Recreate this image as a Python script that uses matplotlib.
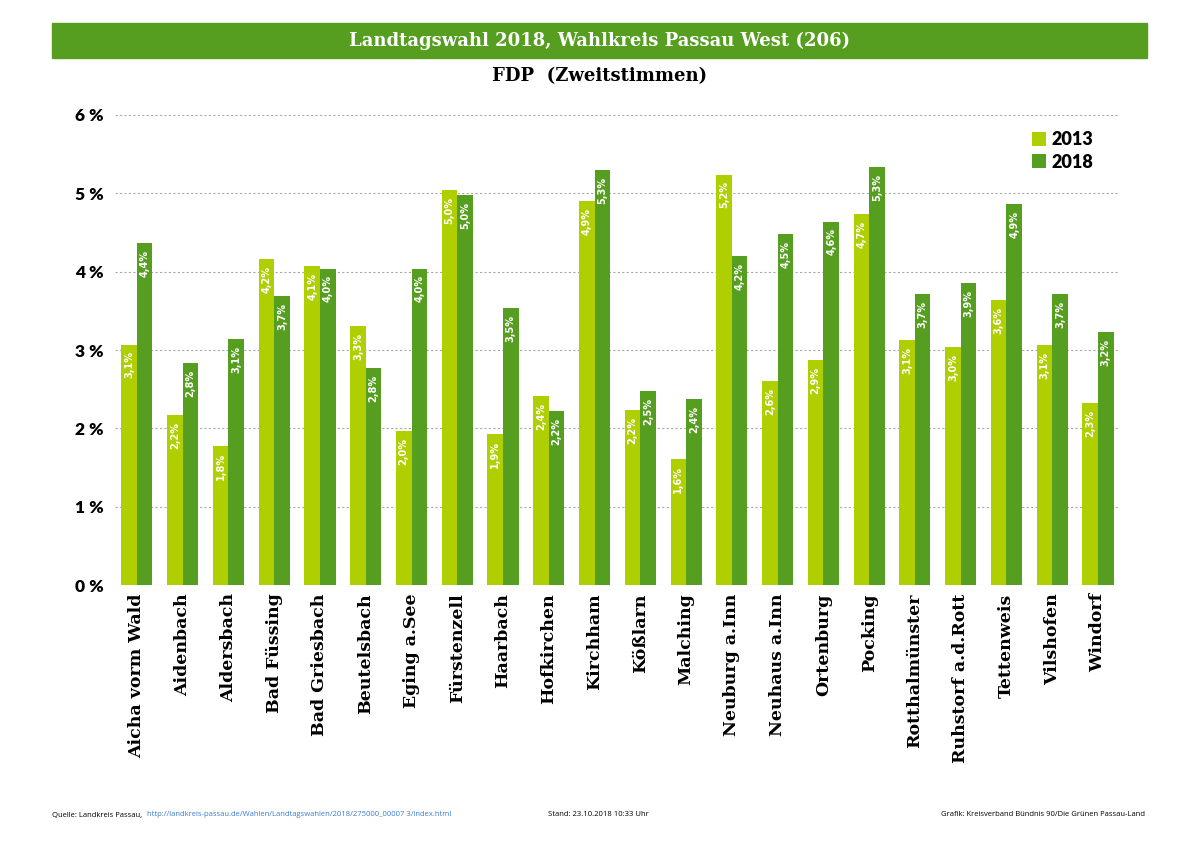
import matplotlib.pyplot as plt
import numpy as np

orte = ["Aicha vorm Wald", "Aidenbach", "Aldersbach", "Bad Füssing", "Bad Griesbach",
        "Beutelsbach", "Eging a.See", "Fürstenzell", "Haarbach", "Hofkirchen",
        "Kirchham", "Kößlarn", "Malching", "Neuburg a.Inn", "Neuhaus a.Inn",
        "Ortenburg", "Pocking", "Rotthalmünster", "Ruhstorf a.d.Rott", "Tettenweis",
        "Vilshofen", "Windorf"]
werte_2013 = [3.07, 2.17, 1.78, 4.16, 4.07, 3.31, 1.97, 5.04, 1.93, 2.41, 4.90,
              2.23, 1.61, 5.24, 2.61, 2.87, 4.73, 3.13, 3.04, 3.64, 3.06, 2.32]
werte_2018 = [4.37, 2.84, 3.14, 3.69, 4.04, 2.77, 4.04, 4.98, 3.54, 2.22, 5.30,
              2.48, 2.38, 4.20, 4.48, 4.64, 5.33, 3.72, 3.86, 4.86, 3.72, 3.23]
y_ticks = [0, 1, 2, 3, 4, 5, 6]

HELL = "#afcf00"
DUNKEL = "#569e1f"
SLAB = "DejaVu Serif"

fig = plt.figure(figsize=(12, 8.48), dpi=100)
ax = fig.add_axes([0.0958, 0.3101, 0.8375, 0.5543])

x = np.arange(len(orte))
w = 0.34
b1 = ax.bar(x - w / 2, werte_2013, w, color=HELL, label="2013", zorder=3)
b2 = ax.bar(x + w / 2, werte_2018, w, color=DUNKEL, label="2018", zorder=3)

for bars, vals in ((b1, werte_2013), (b2, werte_2018)):
    for r, v in zip(bars, vals):
        ax.annotate(f"{v:.1f}%".replace(".", ","),
                    (r.get_x() + r.get_width() / 2, v),
                    xytext=(0, -5), textcoords="offset points",
                    rotation=90, ha="center", va="top",
                    color="white", fontsize=7, fontweight="bold", zorder=4)

ax.set_xlim(-0.48, 21.48)
ax.set_ylim(0, 6)
ax.set_yticks(y_ticks)
ax.set_yticklabels([f"{t} %" for t in y_ticks], fontsize=12.5, fontweight="heavy",
                   family="Lato")
ax.yaxis.grid(True, linestyle=(0, (2, 2)), color="#aaaaaa", linewidth=0.8, zorder=0)
ax.tick_params(axis="y", length=0, pad=8)
ax.tick_params(axis="x", length=0, pad=6)
ax.set_xticks(x)
ax.set_xticklabels(orte, rotation=90, fontsize=12.5, fontweight="bold", family=SLAB)
for s in ax.spines.values():
    s.set_visible(False)

leg = ax.legend(loc="upper right", bbox_to_anchor=(0.99, 1.0), frameon=False,
                prop={"weight": "heavy", "size": 13, "family": "Lato"}, handlelength=0.8,
                handleheight=0.8, handletextpad=0.3, labelspacing=0.3)

# banner + titles
fig.patches.append(plt.Rectangle((52 / 1200, 1 - 58 / 848), 1095 / 1200, 35 / 848,
                                 transform=fig.transFigure, color=DUNKEL, zorder=0))
fig.text(0.5, 1 - 41 / 848, "Landtagswahl 2018, Wahlkreis Passau West (206)",
         ha="center", va="center", color="white", fontsize=13, fontweight="bold",
         family=SLAB)
fig.text(0.5, 1 - 76 / 848, "FDP  (Zweitstimmen)", ha="center", va="center",
         fontsize=13, fontweight="bold", family=SLAB)

# footer
fy = 1 - 815 / 848
fig.text(52 / 1200, fy, "Quelle: Landkreis Passau, ", fontsize=5.5, va="center",
         family="Open Sans")
fig.text(147 / 1200, fy,
         "http://landkreis-passau.de/Wahlen/Landtagswahlen/2018/275000_00007 3/index.html",
         fontsize=5.5, va="center", color="#3a7bd5", family="Open Sans")
fig.text(548 / 1200, fy, "Stand: 23.10.2018 10:33 Uhr", fontsize=5.5, va="center",
         family="Open Sans")
fig.text(1145 / 1200, fy, "Grafik: Kreisverband Bündnis 90/Die Grünen Passau-Land",
         fontsize=5.5, va="center", ha="right", family="Open Sans")

fig.savefig("out.png", dpi=100)
